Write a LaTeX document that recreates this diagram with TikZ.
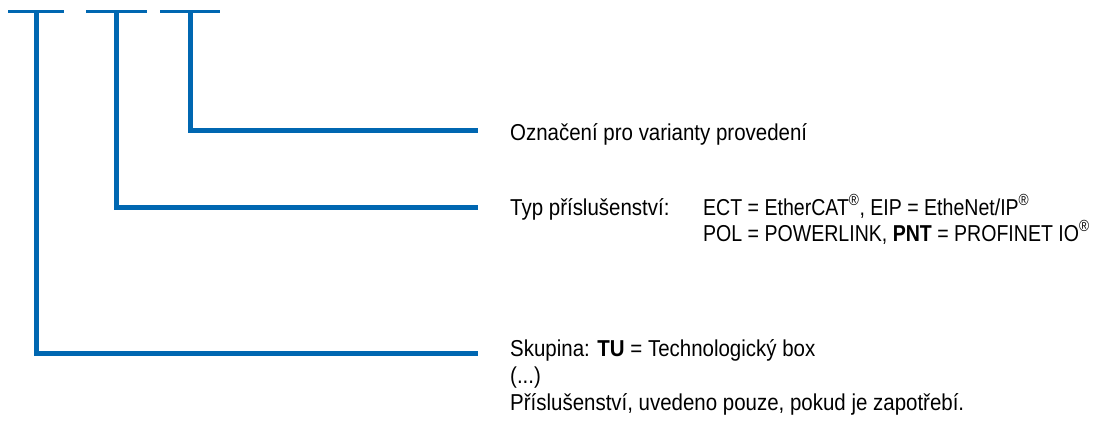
\documentclass[tikz,border=0pt]{standalone}
\usepackage{fontspec}
\setmainfont{Liberation Sans}[FakeStretch=0.89]
\newfontfamily\valfont{Liberation Sans}[FakeStretch=0.85]
\definecolor{fblue}{RGB}{0,103,177}
\newcommand\regmark{\textsuperscript{®}}
\begin{document}
\begin{tikzpicture}[x=1pt,y=-1pt,
  lbl/.style={inner sep=0pt, anchor=base west, font=\fontsize{23}{27}\selectfont},
  vlbl/.style={lbl, font=\fontsize{23}{27}\selectfont\valfont},
  lead/.style={draw=fblue, line width=5pt},
  topbar/.style={draw=fblue, line width=3pt}]
\useasboundingbox (0,0) rectangle (1101,425);
% top bars
\coordinate (b1l) at (8,11.3);   \coordinate (b1r) at (64,11.3);
\coordinate (b2l) at (86,11.3);  \coordinate (b2r) at (147,11.3);
\coordinate (b3l) at (160,11.3); \coordinate (b3r) at (220,11.3);
\draw[topbar] (b1l) -- (b1r);
\draw[topbar] (b2l) -- (b2r);
\draw[topbar] (b3l) -- (b3r);
% leader start points
\coordinate (k1) at (36,12);
\coordinate (k2) at (116.5,12);
\coordinate (k3) at (190,12);
% leader end points
\coordinate (e1) at (478,353);
\coordinate (e2) at (478,207);
\coordinate (e3) at (478,131);
\draw[lead] (k1) |- (e1);
\draw[lead] (k2) |- (e2);
\draw[lead] (k3) |- (e3);
% texts
\node[lbl] (var) at (510,141) {Označení pro varianty provedení};
\node[lbl] (typ) at (510,215) {Typ příslušenství:};
\node[vlbl] (v1) at (703,215) {ECT = EtherCAT\regmark, EIP = EtheNet/IP\regmark};
\node[vlbl] (v2) at (703,241) {POL = POWERLINK, \textbf{PNT} = PROFINET IO\regmark};
\node[lbl] (s1) at (510,356) {Skupina: \textbf{TU} = Technologický box};
\node[lbl] (s2) at (510,383) {(...)};
\node[lbl] (s3) at (510,410) {Příslušenství, uvedeno pouze, pokud je zapotřebí.};
\end{tikzpicture}
\end{document}
